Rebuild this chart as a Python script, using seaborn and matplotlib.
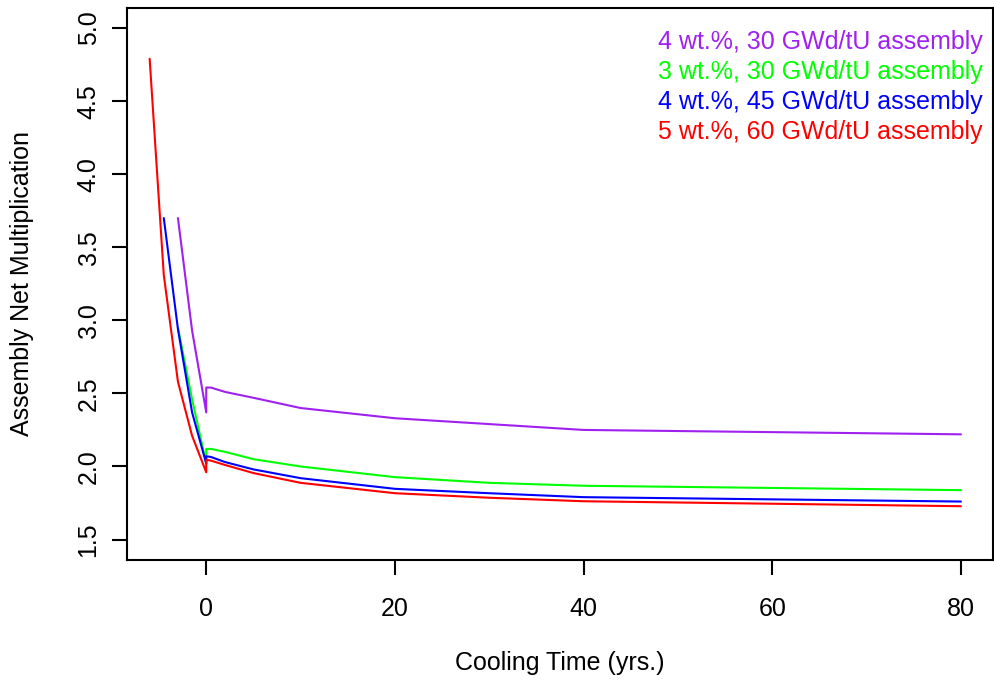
import numpy as np
import pandas as pd
import matplotlib
matplotlib.use("Agg")
import matplotlib.pyplot as plt
import seaborn as sns

# ---- data ----
labels = ["4 wt.%, 30 GWd/tU assembly", "3 wt.%, 30 GWd/tU assembly",
          "4 wt.%, 45 GWd/tU assembly", "5 wt.%, 60 GWd/tU assembly"]
colors = ["#A020F0", "#00FF00", "#0000FF", "#FF0000"]

t_purple = [-3, -1.5, 0, 0, 0.5, 2, 5, 10, 20, 30, 40, 80]
v_purple = [3.70, 2.93, 2.37, 2.54, 2.54, 2.51, 2.47, 2.40, 2.33, 2.29, 2.25, 2.22]

t_green = [-3, -1.5, 0, 0, 0.5, 2, 5, 10, 20, 30, 40, 80]
v_green = [2.95, 2.46, 2.02, 2.12, 2.12, 2.10, 2.05, 2.00, 1.927, 1.888, 1.868, 1.838]

t_blue = [-4.5, -3, -1.5, 0, 0, 0.5, 2, 5, 10, 20, 30, 40, 80]
v_blue = [3.70, 2.94, 2.37, 2.02, 2.07, 2.065, 2.03, 1.98, 1.92, 1.847, 1.817, 1.79, 1.76]

t_red = [-6, -4.5, -3, -1.5, 0, 0, 0.5, 2, 5, 10, 20, 30, 40, 80]
v_red = [4.79, 3.31, 2.58, 2.21, 1.96, 2.046, 2.04, 2.01, 1.955, 1.888, 1.817, 1.786, 1.762, 1.728]

xticks = [0, 20, 40, 60, 80]
yticks = [1.5, 2.0, 2.5, 3.0, 3.5, 4.0, 4.5, 5.0]

series = [(t_purple, v_purple), (t_green, v_green), (t_blue, v_blue), (t_red, v_red)]
frames = []
for lab, (t, v) in zip(labels, series):
    frames.append(pd.DataFrame({"time": t, "value": v, "series": lab,
                                "order": np.arange(len(t))}))
df = pd.concat(frames, ignore_index=True)

sns.set_theme(style="ticks")
plt.rcParams["font.family"] = ["Liberation Sans", "DejaVu Sans"]
plt.rcParams["text.color"] = "black"
plt.rcParams["axes.labelcolor"] = "black"

fig = plt.figure(figsize=(9.94, 6.82), dpi=100)
ax = fig.add_axes([127 / 994, 1 - 560 / 682, 866 / 994, (560 - 7.6) / 682])

sns.lineplot(data=df, x="time", y="value", hue="series", hue_order=labels,
             palette=colors, estimator=None, sort=False, units="series",
             linewidth=1.5, ax=ax, legend=False)

ax.set_xlim(-8.4, 83.4)
ax.set_ylim(1.36, 5.14)
ax.set_xticks(xticks)
ax.set_xticklabels([str(x) for x in xticks])
ax.set_yticks(yticks)
ax.set_yticklabels([f"{y:.1f}" for y in yticks])

for s in ax.spines.values():
    s.set_visible(True)
    s.set_linewidth(1.5)
    s.set_color("black")

ax.tick_params(axis="both", direction="out", length=11, width=1.5,
               labelsize=18, colors="black")
ax.tick_params(axis="x", pad=16)
ax.tick_params(axis="y", pad=8)
for lab in ax.get_yticklabels():
    lab.set_rotation(90)
    lab.set_va("center")
    lab.set_ha("right")

ax.set_xlabel("Cooling Time (yrs.)", fontsize=18, color="black")
ax.set_ylabel("Assembly Net Multiplication", fontsize=18, color="black")
ax.xaxis.label.set_va("center")
ax.yaxis.label.set_va("center")
ax.xaxis.set_label_coords(0.5, -0.1865)
ax.yaxis.set_label_coords(-0.1212, 0.5)

handles = [plt.Line2D([], [], color=c, linewidth=0) for c in colors]
leg = ax.legend(handles, labels, loc="upper right",
                bbox_to_anchor=(0.988, 0.959), frameon=False,
                handlelength=0, handletextpad=0, borderpad=0,
                borderaxespad=0, labelspacing=0.24, fontsize=18)
for txt, c in zip(leg.get_texts(), colors):
    txt.set_color(c)

fig.savefig("out.png", dpi=100)
